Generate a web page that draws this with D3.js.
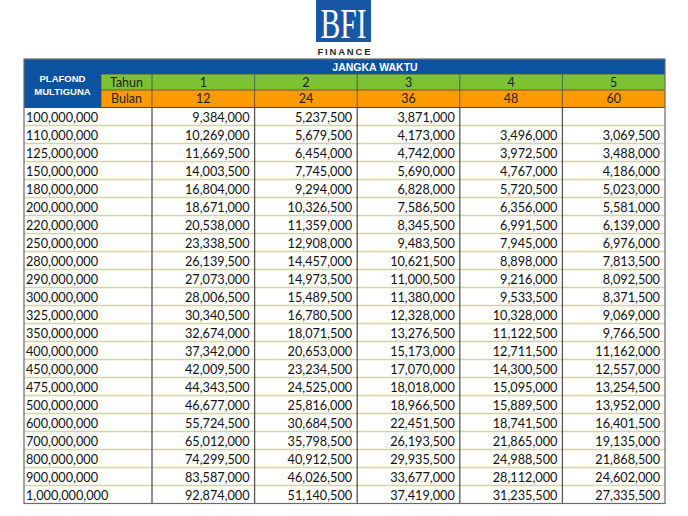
<!DOCTYPE html>
<html><head><meta charset="utf-8">
<script src="https://cdn.jsdelivr.net/npm/d3@7"></script>
<style>
html,body{margin:0;padding:0;background:#fff;}
svg{display:block;}
</style></head>
<body>
<svg id="c" width="688" height="516"></svg>
<script>
const plafond = ["100,000,000","110,000,000","125,000,000","150,000,000","180,000,000","200,000,000","220,000,000","250,000,000","280,000,000","290,000,000","300,000,000","325,000,000","350,000,000","400,000,000","450,000,000","475,000,000","500,000,000","600,000,000","700,000,000","800,000,000","900,000,000","1,000,000,000"];
const tahun = ["1","2","3","4","5"];
const bulan = ["12","24","36","48","60"];
const tenor12 = ["9,384,000","10,269,000","11,669,500","14,003,500","16,804,000","18,671,000","20,538,000","23,338,500","26,139,500","27,073,000","28,006,500","30,340,500","32,674,000","37,342,000","42,009,500","44,343,500","46,677,000","55,724,500","65,012,000","74,299,500","83,587,000","92,874,000"];
const tenor24 = ["5,237,500","5,679,500","6,454,000","7,745,000","9,294,000","10,326,500","11,359,000","12,908,000","14,457,000","14,973,500","15,489,500","16,780,500","18,071,500","20,653,000","23,234,500","24,525,000","25,816,000","30,684,500","35,798,500","40,912,500","46,026,500","51,140,500"];
const tenor36 = ["3,871,000","4,173,000","4,742,000","5,690,000","6,828,000","7,586,500","8,345,500","9,483,500","10,621,500","11,000,500","11,380,000","12,328,000","13,276,500","15,173,000","17,070,000","18,018,000","18,966,500","22,451,500","26,193,500","29,935,500","33,677,000","37,419,000"];
const tenor48 = ["","3,496,000","3,972,500","4,767,000","5,720,500","6,356,000","6,991,500","7,945,000","8,898,000","9,216,000","9,533,500","10,328,000","11,122,500","12,711,500","14,300,500","15,095,000","15,889,500","18,741,500","21,865,000","24,988,500","28,112,000","31,235,500"];
const tenor60 = ["","3,069,500","3,488,000","4,186,000","5,023,000","5,581,000","6,139,000","6,976,000","7,813,500","8,092,500","8,371,500","9,069,000","9,766,500","11,162,000","12,557,000","13,254,500","13,952,000","16,401,500","19,135,000","21,868,500","24,602,000","27,335,500"];
const series = [tenor12, tenor24, tenor36, tenor48, tenor60];

const svg = d3.select("#c");
const L = 24, R = 665, T = 59;
const hdr1 = 74, hdr2 = 90, hdr3 = 107.5, B = 503.5;
const xLab = 101, xData = 152;
const BLUE = "#0b53a1", GREEN = "#7dc233", ORANGE = "#ff9a00";
const FONT = "Lato, 'Open Sans', sans-serif";
const SQUEEZE = 0.92;

function attrs(sel,o){for(const k in o) sel.attr(k,o[k]); return sel;}
function squeeze(sel){
  sel.each(function(){
    if(!this.textContent) return;
    const w = this.getComputedTextLength();
    d3.select(this).attr("textLength", w*SQUEEZE).attr("lengthAdjust","spacingAndGlyphs");
  });
}

// Logo
const logo = svg.append("g");
logo.append("rect").attr("x",316).attr("y",0).attr("width",55).attr("height",42).attr("fill","#1a56a6");
logo.append("text").attr("x",343.5).attr("y",37.5).attr("text-anchor","middle")
  .attr("font-family","'Liberation Serif', 'DejaVu Serif', serif").attr("font-size",42)
  .attr("fill","#fff").attr("textLength",46).attr("lengthAdjust","spacingAndGlyphs").text("BFI");
logo.append("text").attr("x",344).attr("y",55).attr("text-anchor","middle")
  .attr("font-family","'Liberation Sans', Arial, sans-serif").attr("font-size",9.5).attr("font-weight","bold")
  .attr("fill","#2a2a2a").attr("textLength",53).attr("lengthAdjust","spacing").text("FINANCE");

const x = d3.scaleBand().domain(d3.range(5)).range([xData, R]);
const y = d3.scaleBand().domain(plafond).range([hdr3, B]);

// header backgrounds
svg.append("rect").attr("x",L).attr("y",T).attr("width",xLab-L).attr("height",hdr3-T).attr("fill",BLUE);
svg.append("rect").attr("x",xLab).attr("y",T).attr("width",R-xLab).attr("height",hdr1-T).attr("fill",BLUE);
svg.append("rect").attr("x",xLab).attr("y",hdr1).attr("width",R-xLab).attr("height",hdr2-hdr1).attr("fill",GREEN);
svg.append("rect").attr("x",xLab).attr("y",hdr2).attr("width",R-xLab).attr("height",hdr3-hdr2).attr("fill",ORANGE);

// header texts
const hb = {"font-family":"'Liberation Sans', Arial, sans-serif","font-weight":"bold","fill":"#fff","font-size":9.5};
attrs(svg.append("text"),hb).attr("x",(L+xLab)/2).attr("y",81.5).attr("text-anchor","middle").text("PLAFOND");
attrs(svg.append("text"),hb).attr("x",(L+xLab)/2).attr("y",94.5).attr("text-anchor","middle").text("MULTIGUNA");
attrs(svg.append("text"),hb).attr("x",375).attr("y",70.5).attr("text-anchor","middle").attr("font-size",10.5).text("JANGKA WAKTU");

const ht = {"font-family":FONT,"font-size":12.5,"fill":"#222","text-anchor":"middle"};
attrs(svg.append("text"),ht).attr("x",(xLab+xData)/2).attr("y",86.5).text("Tahun");
attrs(svg.append("text"),ht).attr("x",(xLab+xData)/2).attr("y",103).text("Bulan");
svg.selectAll("text.th").data(tahun).join("text").attr("class","th").call(s=>attrs(s,ht))
  .attr("x",(d,i)=>x(i)+x.bandwidth()/2).attr("y",86.5).text(d=>d);
svg.selectAll("text.bl").data(bulan).join("text").attr("class","bl").call(s=>attrs(s,ht))
  .attr("x",(d,i)=>x(i)+x.bandwidth()/2).attr("y",103).text(d=>d);

// header grid lines
const dark = "#4a4a4a";
svg.append("line").attr("x1",xLab).attr("x2",R).attr("y1",hdr1).attr("y2",hdr1).attr("stroke",dark).attr("stroke-width",0.8);
svg.append("line").attr("x1",xLab).attr("x2",R).attr("y1",hdr2).attr("y2",hdr2).attr("stroke",dark).attr("stroke-width",0.8);
svg.append("line").attr("x1",xLab).attr("x2",xLab).attr("y1",hdr1).attr("y2",hdr3).attr("stroke",dark).attr("stroke-width",0.8);
svg.selectAll("line.hv").data(d3.range(5)).join("line").attr("class","hv")
  .attr("x1",i=>x(i)).attr("x2",i=>x(i)).attr("y1",hdr1).attr("y2",hdr3).attr("stroke",dark).attr("stroke-width",0.8);

// data row separators
svg.selectAll("line.rs").data(plafond.slice(1)).join("line").attr("class","rs")
  .attr("x1",L).attr("x2",R).attr("y1",d=>y(d)).attr("y2",d=>y(d))
  .attr("stroke","#d6d2a8").attr("stroke-width",1.6);
svg.append("line").attr("x1",L).attr("x2",R).attr("y1",hdr3).attr("y2",hdr3).attr("stroke",dark).attr("stroke-width",1);

// vertical separators in data
svg.selectAll("line.dv").data(d3.range(5)).join("line").attr("class","dv")
  .attr("x1",i=>x(i)).attr("x2",i=>x(i)).attr("y1",hdr3).attr("y2",B).attr("stroke","#555").attr("stroke-width",1.3);

// outer border
svg.append("rect").attr("x",L).attr("y",T).attr("width",R-L).attr("height",B-T)
  .attr("fill","none").attr("stroke","#6a6a6a").attr("stroke-width",1.2);

// data text
const dt = {"font-family":FONT,"font-size":13.8,"fill":"#111"};
svg.selectAll("text.pl").data(plafond).join("text").attr("class","pl").call(s=>attrs(s,dt))
  .attr("x",L+2).attr("y",d=>y(d)+y.bandwidth()/2+5).text(d=>d).call(squeeze);
series.forEach((vals,ci)=>{
  svg.selectAll("text.v"+ci).data(vals).join("text").attr("class","v"+ci).call(s=>attrs(s,dt))
    .attr("text-anchor","end").attr("x",x(ci)+x.bandwidth()-5)
    .attr("y",(d,i)=>y(plafond[i])+y.bandwidth()/2+5).text(d=>d).call(squeeze);
});
</script>
</body></html>
